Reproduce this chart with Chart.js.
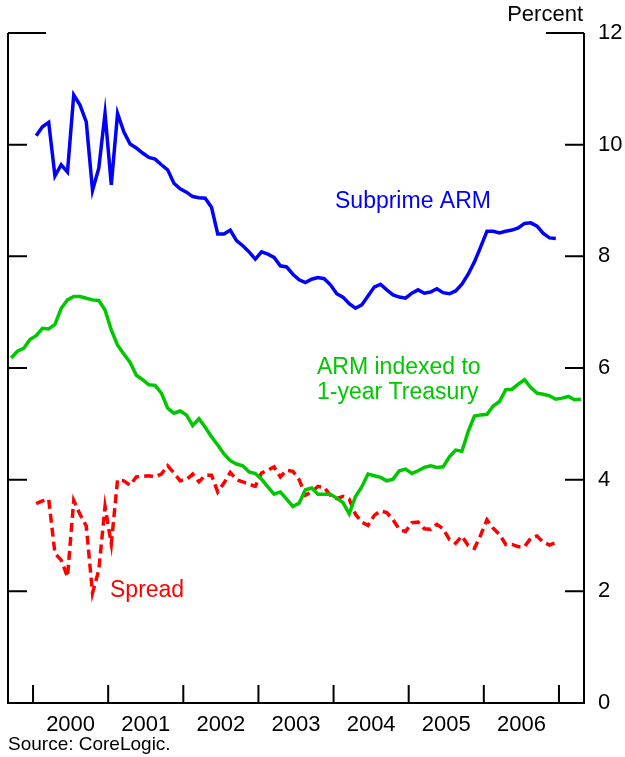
<!DOCTYPE html>
<html><head><meta charset="utf-8">
<script src="https://cdn.jsdelivr.net/npm/chart.js@4.4.1/dist/chart.umd.min.js"></script>
<style>html,body{margin:0;padding:0;background:#fff}#wrap{width:625px;height:757px;position:relative}canvas{display:block}</style>
</head><body><div id="wrap"><canvas id="c" width="625" height="757"></canvas></div>
<script>
// ---- data (monthly; month index 0 = Jan 2000) ----
const yearLabels = ['2000','2001','2002','2003','2004','2005','2006'];
const yTicks = [0, 2, 4, 6, 8, 10, 12];

const subprimeStart = 0;   // Jan 2000
const subprimeARM = [
  10.16,10.32,10.40,9.44,9.64,9.51,10.89,10.71,10.41,9.18,9.58,10.56,
  9.28,10.56,10.23,10.01,9.94,9.85,9.77,9.74,9.64,9.55,9.31,9.21,
  9.15,9.07,9.05,9.04,8.88,8.40,8.40,8.47,8.28,8.19,8.08,7.95,
  8.08,8.04,7.98,7.83,7.81,7.68,7.58,7.53,7.59,7.62,7.60,7.49,
  7.33,7.27,7.15,7.07,7.13,7.29,7.45,7.50,7.40,7.31,7.27,7.25,
  7.34,7.40,7.34,7.36,7.42,7.35,7.33,7.38,7.50,7.68,7.90,8.17,
  8.45,8.45,8.42,8.45,8.47,8.51,8.59,8.60,8.54,8.41,8.33,8.32
];

const treasuryStart = -4;  // Sep 1999
const treasuryARM = [
  6.18,6.30,6.35,6.51,
  6.58,6.71,6.70,6.78,7.07,7.22,7.28,7.28,7.25,7.22,7.21,7.04,
  6.68,6.41,6.25,6.10,5.87,5.79,5.70,5.69,5.55,5.28,5.19,5.23,
  5.16,4.97,5.09,4.94,4.77,4.62,4.46,4.34,4.28,4.25,4.14,4.11,
  4.01,3.87,3.74,3.78,3.65,3.52,3.58,3.82,3.85,3.74,3.74,3.74,
  3.67,3.59,3.39,3.70,3.87,4.10,4.07,4.04,3.98,4.01,4.16,4.19,
  4.11,4.16,4.22,4.25,4.22,4.23,4.41,4.53,4.51,4.86,5.14,5.16,
  5.17,5.32,5.40,5.61,5.62,5.71,5.79,5.65,5.55,5.53,5.50,5.44,
  5.46,5.49,5.43,5.44
];

const spreadStart = 0;     // Jan 2000
const spread = [
  3.57,3.62,3.65,2.68,2.56,2.26,3.63,3.38,3.17,1.97,2.38,3.52,
  2.85,4.00,3.98,3.90,4.05,4.06,4.07,4.05,4.10,4.25,4.12,3.98,
  4.00,4.10,3.96,4.08,4.08,3.78,3.94,4.13,4.00,3.96,3.92,3.88,
  4.12,4.17,4.23,4.05,4.17,4.15,4.00,3.72,3.78,3.88,3.86,3.72,
  3.66,3.70,3.65,3.38,3.24,3.18,3.36,3.44,3.41,3.28,3.11,3.07,
  3.23,3.24,3.12,3.11,3.20,3.12,2.93,2.86,2.99,2.82,2.77,3.01,
  3.28,3.13,3.02,2.84,2.84,2.80,2.80,2.95,2.99,2.88,2.83,2.87
];

// ---- build points (each month plotted at its middle) ----
const toPts = (arr, start) => arr.map((v, i) => ({ x: start + i + 0.5, y: v }));
const yearBoundaries = yearLabels.map((_, k) => 12 * k).concat([12 * yearLabels.length]);

const FONT = '"Liberation Sans", Arial, Helvetica, sans-serif';
const BLUE = '#0000ff', GREEN = '#00c800', RED = '#ff0000';

const framePlugin = {
  id: 'frame',
  afterDraw(chart) {
    const { ctx, chartArea: a, scales: { x, y } } = chart;
    ctx.save();
    ctx.strokeStyle = '#000';
    ctx.lineWidth = 2;
    ctx.lineCap = 'butt';
    ctx.beginPath();
    ctx.moveTo(a.left, a.top); ctx.lineTo(a.left, a.bottom);
    ctx.lineTo(a.right, a.bottom); ctx.lineTo(a.right, a.top);
    yTicks.forEach(v => {
      if (v === 0) return;
      const py = y.getPixelForValue(v);
      const len = v === 12 ? 38 : 19;
      ctx.moveTo(a.left, py); ctx.lineTo(a.left + len, py);
      ctx.moveTo(a.right, py); ctx.lineTo(a.right - len, py);
    });
    yearBoundaries.forEach(m => {
      const px = x.getPixelForValue(m);
      ctx.moveTo(px, a.bottom); ctx.lineTo(px, a.bottom - 18);
    });
    ctx.stroke();

    // texts
    ctx.textBaseline = 'alphabetic';
    ctx.font = '23px ' + FONT;
    ctx.textAlign = 'left';
    ctx.fillStyle = BLUE;  ctx.fillText('Subprime ARM', 335, 208);
    ctx.fillStyle = GREEN; ctx.fillText('ARM indexed to', 317, 374);
    ctx.fillText('1-year Treasury', 317, 399);
    ctx.fillStyle = RED;   ctx.fillText('Spread', 110, 597);
    ctx.fillStyle = '#000';
    ctx.font = '22px ' + FONT;
    ctx.textAlign = 'right';
    ctx.fillText('Percent', 583, 21);
    ctx.font = '19px ' + FONT;
    ctx.textAlign = 'left';
    ctx.fillText('Source: CoreLogic.', 8, 750);
    ctx.restore();
  }
};

new Chart(document.getElementById('c'), {
  type: 'line',
  data: {
    datasets: [
      { label: 'Subprime ARM', data: toPts(subprimeARM, subprimeStart), borderColor: BLUE, borderWidth: 3.5, pointRadius: 0, tension: 0, fill: false },
      { label: 'ARM indexed to 1-year Treasury', data: toPts(treasuryARM, treasuryStart), borderColor: GREEN, borderWidth: 3.5, pointRadius: 0, tension: 0, fill: false },
      { label: 'Spread', data: toPts(spread, spreadStart), borderColor: RED, borderWidth: 3.5, borderDash: [9, 5], pointRadius: 0, tension: 0, fill: false }
    ]
  },
  options: {
    responsive: false,
    animation: false,
    devicePixelRatio: 1,
    layout: { padding: { left: 8, top: 33, right: 0, bottom: 0 } },
    plugins: { legend: { display: false }, tooltip: { enabled: false } },
    scales: {
      x: {
        type: 'linear',
        min: -4, max: 88,
        grid: { display: false, drawTicks: false },
        border: { display: false },
        afterBuildTicks: s => { s.ticks = yearLabels.map((_, k) => ({ value: 12 * k + 6 })); },
        afterFit: s => { s.height = 54; },
        ticks: {
          autoSkip: false, maxRotation: 0, padding: 9,
          color: '#000', font: { family: FONT, size: 22 },
          callback: v => yearLabels[Math.round((v - 6) / 12)]
        }
      },
      y: {
        position: 'right',
        min: 0, max: 12,
        grid: { display: false, drawTicks: false },
        border: { display: false },
        afterBuildTicks: s => { s.ticks = yTicks.map(v => ({ value: v })); },
        afterFit: s => { s.width = 41; },
        ticks: {
          padding: 14, color: '#000', font: { family: FONT, size: 22 },
          callback: v => String(v)
        }
      }
    }
  },
  plugins: [framePlugin]
});
</script>
</body></html>
